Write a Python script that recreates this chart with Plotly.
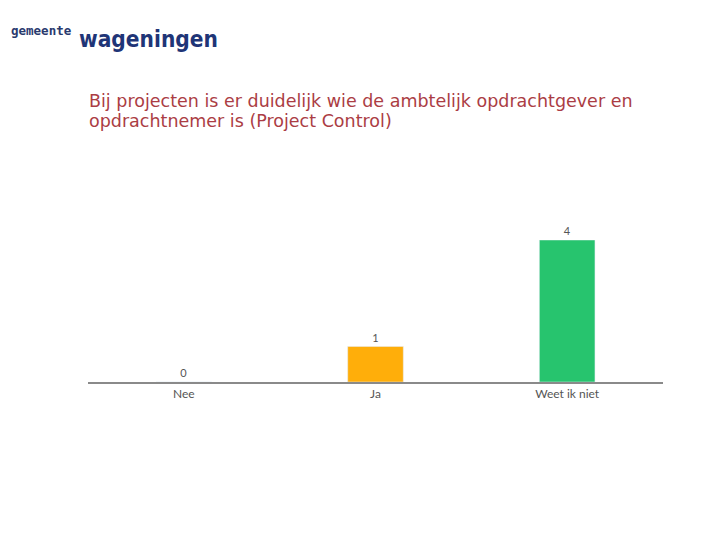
import plotly.graph_objects as go

categories = ["Nee", "Ja", "Weet ik niet"]
values = [0, 1, 4]
colors = ["#e0463c", "#ffae0a", "#27c46e"]
title_lines = ["Bij projecten is er duidelijk wie de ambtelijk opdrachtgever en",
               "opdrachtnemer is (Project Control)"]

fig = go.Figure()
fig.add_trace(go.Bar(
    x=categories, y=values, marker_color=colors, width=0.29,
    text=[str(v) for v in values], textposition="outside", cliponaxis=False,
    textfont=dict(family="Lato, Open Sans, sans-serif", size=11, color="#555555"),
    hoverinfo="x+y",
))

# page body has an 8px default margin; margins compensate for it
fig.update_layout(
    width=720, height=540,
    margin=dict(l=80, r=65, t=232, b=166, autoexpand=False),
    paper_bgcolor="white", plot_bgcolor="white",
    showlegend=False,
    xaxis=dict(showline=True, linecolor="#8a8a8a", linewidth=1.5, ticks="",
               tickfont=dict(family="Lato, Open Sans, sans-serif", size=12, color="#555555"),
               showgrid=False, zeroline=False),
    yaxis=dict(range=[0, 4], visible=False, showgrid=False, zeroline=False),
)

for i, line in enumerate(title_lines):
    fig.add_annotation(text=line, xref="paper", yref="paper", x=0, y=1,
                       xshift=-1, yshift=151 - 20 * i, xanchor="left", yanchor="top", align="left",
                       showarrow=False,
                       font=dict(family="DejaVu Sans, Verdana, sans-serif", size=17.5, color="#ab3d44"))

fig.add_annotation(text="<b>gemeente</b>", xref="paper", yref="paper", x=0, y=1,
                   xshift=-79, yshift=210, xanchor="left", yanchor="middle", showarrow=False,
                   font=dict(family="DejaVu Sans Mono, monospace", size=12.5, color="#2a3a6e"))
fig.add_annotation(text="<b>wageningen</b>", xref="paper", yref="paper", x=0, y=1,
                   xshift=-11, yshift=201, xanchor="left", yanchor="middle", showarrow=False,
                   font=dict(family="DejaVu Sans Condensed, DejaVu Sans, sans-serif", size=22.5, color="#1f3577"))

fig.write_html("out.html")
